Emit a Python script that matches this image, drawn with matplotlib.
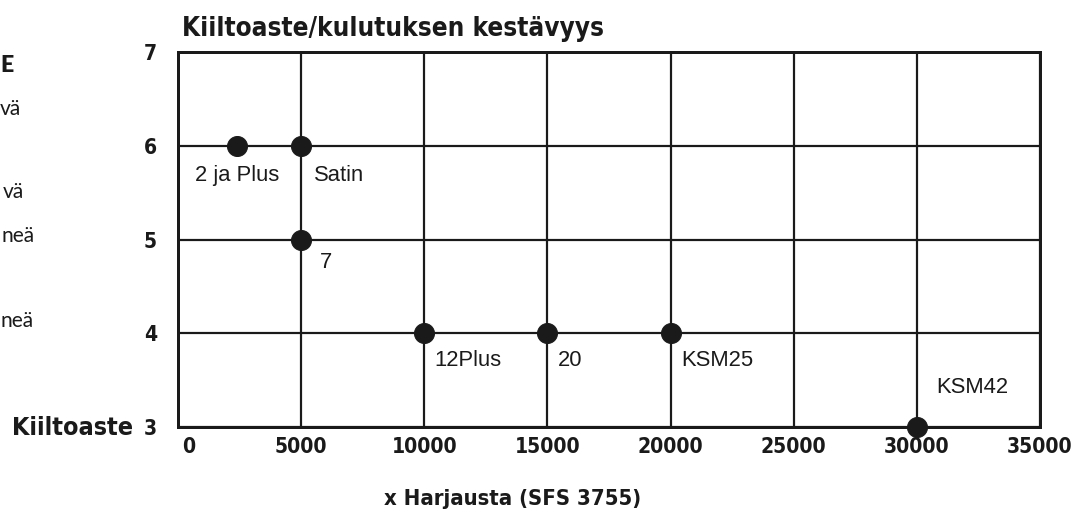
import matplotlib
matplotlib.use('Agg')
import matplotlib.pyplot as plt
from matplotlib import font_manager
from matplotlib.transforms import ScaledTranslation

# Tuotteet: harjauskestävyys (x) ja kiiltoaste (y)
products = ['2 ja Plus', 'Satin', '7', '12Plus', '20', 'KSM25', 'KSM42']
brushings = [2400, 5000, 5000, 10000, 15000, 20000, 30000]
gloss = [6, 6, 5, 4, 4, 4, 3]

x_ticks = [0, 5000, 10000, 15000, 20000, 25000, 30000, 35000]
y_ticks = [3, 4, 5, 6, 7]

# vasemman reunan palsta näkyy kuvassa vain sanojen loppuina
side_texts = ['E', 'vä', 'vä', 'neä', 'neä']

# etiketin siirto pisteestä (pikseleinä) ja tasaus
label_offsets = {
    '2 ja Plus': (0, -35, 'center'),
    'Satin': (13, -35, 'left'),
    '7': (19, -28, 'left'),
    '12Plus': (10, -33, 'left'),
    '20': (10, -33, 'left'),
    'KSM25': (11, -33, 'left'),
    'KSM42': (19, 34, 'left'),
}

names = {f.name for f in font_manager.fontManager.ttflist}
cond = next((n for n in ['Liberation Sans Narrow', 'DejaVu Sans Condensed'] if n in names), 'DejaVu Sans')
bold_c = dict(family=cond, weight='bold', stretch='condensed')

W, H, DPI = 1087, 515, 72
fig = plt.figure(figsize=(W / DPI, H / DPI), dpi=DPI)
ax = fig.add_axes([178 / W, (H - 427) / H, 862 / W, 375 / H])

ax.set_xlim(0, 35000)
ax.set_ylim(3, 7)
ax.set_xticks(x_ticks)
ax.set_yticks(y_ticks)
ax.set_xticklabels([str(v) for v in x_ticks])
ax.set_yticklabels([str(v) for v in y_ticks])
ax.tick_params(length=0, colors='#1a1a1a')
ax.tick_params(axis='y', pad=21)
ax.tick_params(axis='x', pad=10)
for lab in ax.get_xticklabels() + ax.get_yticklabels():
    lab.set_fontproperties(font_manager.FontProperties(size=21, **bold_c))
# nolla on siirretty hieman oikealle
first = ax.get_xticklabels()[0]
first.set_transform(first.get_transform() + ScaledTranslation(11 / DPI, 0, fig.dpi_scale_trans))

ax.grid(True, color='#1a1a1a', linewidth=2.2)
ax.set_axisbelow(True)
for s in ax.spines.values():
    s.set_linewidth(3)
    s.set_color('#1a1a1a')

ax.scatter(brushings, gloss, s=400, color='#1a1a1a', zorder=5, clip_on=False)
for name, x, y in zip(products, brushings, gloss):
    dx, dy, ha = label_offsets[name]
    ax.annotate(name, (x, y), xytext=(dx, dy), textcoords='offset points',
                ha=ha, va='baseline', fontsize=22, family='Liberation Sans', color='#1a1a1a')

fig.text(182 / W, 1 - 36 / H, 'Kiiltoaste/kulutuksen kestävyys', ha='left', va='baseline',
         fontsize=26, color='#1a1a1a', **bold_c)
fig.text(513 / W, 1 - 505 / H, 'x Harjausta (SFS 3755)', ha='center', va='baseline',
         fontsize=22, color='#1a1a1a', **bold_c)
fig.text(133 / W, 1 - 435 / H, 'Kiiltoaste', ha='right', va='baseline',
         fontsize=25, color='#1a1a1a', **bold_c)

side_pos = [(14, 72, True), (21, 115, False), (24, 198, False), (35, 242, False), (34, 327, False)]
for txt, (xr, yb, b) in zip(side_texts, side_pos):
    fig.text(xr / W, 1 - yb / H, txt, ha='right', va='baseline', fontsize=23 if b else 21,
             family='Lato', weight='heavy' if b else 'normal', color='#1a1a1a')

fig.savefig('out.png', dpi=DPI)
